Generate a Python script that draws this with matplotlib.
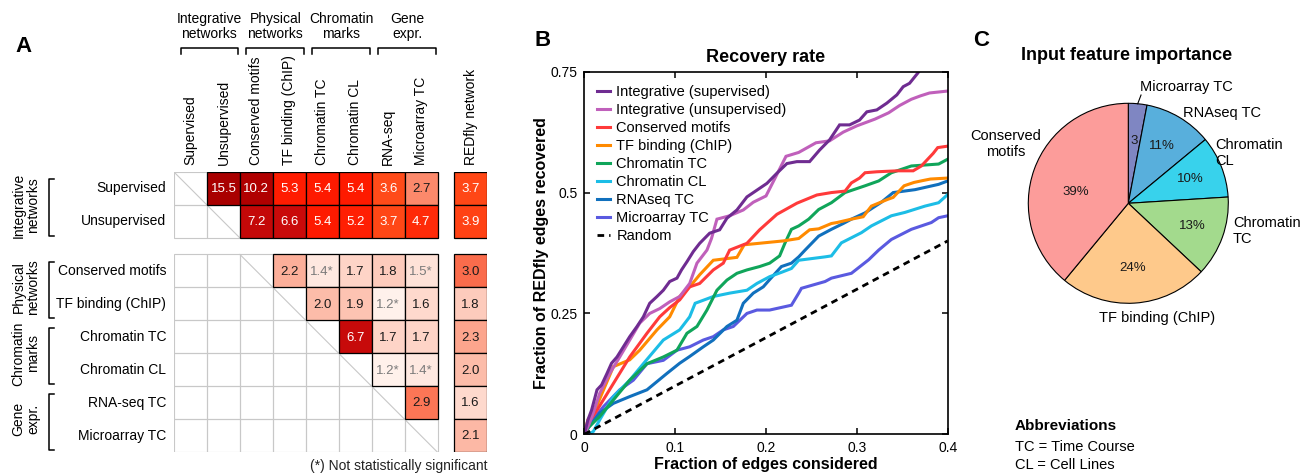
import math
import matplotlib
matplotlib.use('Agg')
import matplotlib.pyplot as plt
from matplotlib.patches import Rectangle
from matplotlib.colors import LinearSegmentedColormap, Normalize

plt.rcParams['font.family'] = ['Liberation Sans', 'DejaVu Sans']

W, H = 1314, 475

# ---------------- Panel A data ----------------
row_labels = ['Supervised', 'Unsupervised', 'Conserved motifs', 'TF binding (ChIP)',
              'Chromatin TC', 'Chromatin CL', 'RNA-seq TC', 'Microarray TC']
col_labels = ['Supervised', 'Unsupervised', 'Conserved motifs', 'TF binding (ChIP)',
              'Chromatin TC', 'Chromatin CL', 'RNA-seq', 'Microarray TC']
redfly_label = 'REDfly network'
group_labels = ['Integrative\nnetworks', 'Physical\nnetworks', 'Chromatin\nmarks', 'Gene\nexpr.']
overlap = [
    [None, 15.5, 10.2, 5.3, 5.4, 5.4, 3.6, 2.7],
    [None, None, 7.2, 6.6, 5.4, 5.2, 3.7, 4.7],
    [None, None, None, 2.2, 1.4, 1.7, 1.8, 1.5],
    [None, None, None, None, 2.0, 1.9, 1.2, 1.6],
    [None, None, None, None, None, 6.7, 1.7, 1.7],
    [None, None, None, None, None, None, 1.2, 1.4],
    [None, None, None, None, None, None, None, 2.9],
    [None, None, None, None, None, None, None, None],
]
redfly = [3.7, 3.9, 3.0, 1.8, 2.3, 2.0, 1.6, 2.1]
not_significant = [(2, 4), (2, 7), (3, 6), (5, 6), (5, 7)]

# ---------------- Panel B data ----------------
sup_x = [0, 0.004, 0.008, 0.014, 0.019, 0.025, 0.030, 0.036, 0.043, 0.050, 0.058, 0.065, 0.072,
         0.080, 0.087, 0.094, 0.102, 0.107, 0.113, 0.120, 0.127, 0.138, 0.149, 0.157, 0.168,
         0.179, 0.190, 0.201, 0.212, 0.223, 0.234, 0.248, 0.259, 0.270, 0.281, 0.292, 0.303,
         0.311, 0.322, 0.333, 0.344, 0.351, 0.358, 0.367, 0.372]
sup_y = [0, 0.030, 0.050, 0.092, 0.102, 0.126, 0.147, 0.160, 0.181, 0.202, 0.223, 0.243, 0.271,
         0.285, 0.298, 0.316, 0.323, 0.340, 0.357, 0.378, 0.395, 0.416, 0.423, 0.447, 0.464,
         0.491, 0.505, 0.519, 0.540, 0.560, 0.564, 0.564, 0.588, 0.609, 0.640, 0.640, 0.650,
         0.667, 0.671, 0.685, 0.702, 0.719, 0.726, 0.747, 0.760]
unsup_x = [0, 0.005, 0.010, 0.017, 0.028, 0.039, 0.050, 0.061, 0.072, 0.083, 0.094, 0.105, 0.116,
           0.124, 0.135, 0.140, 0.146, 0.160, 0.175, 0.186, 0.200, 0.210, 0.222, 0.236, 0.255,
           0.270, 0.285, 0.300, 0.320, 0.335, 0.347, 0.360, 0.370, 0.380, 0.390, 0.400]
unsup_y = [0, 0.020, 0.045, 0.085, 0.126, 0.160, 0.195, 0.230, 0.250, 0.260, 0.274, 0.285, 0.312,
           0.354, 0.381, 0.405, 0.445, 0.452, 0.464, 0.480, 0.493, 0.530, 0.575, 0.583, 0.603,
           0.607, 0.625, 0.638, 0.652, 0.665, 0.680, 0.693, 0.700, 0.706, 0.708, 0.710]
motif_x = [0, 0.005, 0.014, 0.032, 0.050, 0.069, 0.083, 0.094, 0.105, 0.116, 0.127, 0.142, 0.153,
           0.160, 0.179, 0.193, 0.212, 0.234, 0.256, 0.272, 0.287, 0.294, 0.303, 0.309, 0.322,
           0.345, 0.362, 0.371, 0.384, 0.389, 0.400]
motif_y = [0, 0.025, 0.050, 0.105, 0.160, 0.209, 0.243, 0.262, 0.278, 0.305, 0.312, 0.340, 0.354,
           0.381, 0.395, 0.423, 0.455, 0.478, 0.495, 0.500, 0.503, 0.520, 0.530, 0.541, 0.543,
           0.545, 0.545, 0.555, 0.581, 0.593, 0.596]
chip_x = [0, 0.004, 0.014, 0.032, 0.050, 0.061, 0.080, 0.094, 0.105, 0.116, 0.127, 0.142, 0.168,
          0.176, 0.219, 0.236, 0.248, 0.258, 0.272, 0.278, 0.294, 0.307, 0.316, 0.334, 0.340,
          0.352, 0.363, 0.373, 0.381, 0.400]
chip_y = [0, 0.030, 0.060, 0.140, 0.154, 0.174, 0.216, 0.243, 0.285, 0.305, 0.330, 0.360, 0.366,
          0.392, 0.400, 0.405, 0.423, 0.425, 0.436, 0.438, 0.445, 0.450, 0.472, 0.486, 0.490,
          0.514, 0.521, 0.525, 0.528, 0.530]
chrtc_x = [0, 0.005, 0.017, 0.032, 0.050, 0.069, 0.087, 0.102, 0.113, 0.124, 0.135, 0.146, 0.157,
           0.168, 0.179, 0.193, 0.204, 0.215, 0.221, 0.228, 0.236, 0.247, 0.258, 0.272, 0.287,
           0.309, 0.324, 0.338, 0.349, 0.360, 0.390, 0.400]
chrtc_y = [0, 0.015, 0.037, 0.071, 0.112, 0.146, 0.160, 0.174, 0.209, 0.223, 0.257, 0.298, 0.319,
           0.333, 0.340, 0.347, 0.354, 0.369, 0.396, 0.424, 0.431, 0.445, 0.465, 0.479, 0.500,
           0.514, 0.524, 0.541, 0.548, 0.555, 0.559, 0.569]
chrcl_x = [0, 0.005, 0.010, 0.017, 0.032, 0.050, 0.065, 0.087, 0.105, 0.116, 0.122, 0.142, 0.160,
           0.179, 0.190, 0.204, 0.217, 0.228, 0.236, 0.265, 0.272, 0.283, 0.305, 0.316, 0.338,
           0.353, 0.375, 0.390, 0.400]
chrcl_y = [0, 0.000, 0.006, 0.030, 0.078, 0.112, 0.146, 0.195, 0.216, 0.243, 0.271, 0.285, 0.292,
           0.298, 0.312, 0.326, 0.335, 0.343, 0.360, 0.367, 0.369, 0.396, 0.417, 0.431, 0.452,
           0.459, 0.472, 0.479, 0.496]
rnaseq_x = [0, 0.003, 0.017, 0.032, 0.050, 0.069, 0.091, 0.105, 0.116, 0.131, 0.142, 0.157, 0.168,
            0.175, 0.186, 0.197, 0.204, 0.217, 0.228, 0.236, 0.243, 0.258, 0.272, 0.285, 0.294,
            0.309, 0.327, 0.340, 0.364, 0.390, 0.400]
rnaseq_y = [0, 0.010, 0.044, 0.064, 0.078, 0.092, 0.126, 0.147, 0.161, 0.181, 0.195, 0.223, 0.236,
            0.271, 0.292, 0.305, 0.320, 0.347, 0.354, 0.367, 0.381, 0.410, 0.424, 0.436, 0.445,
            0.458, 0.480, 0.500, 0.506, 0.517, 0.524]
micro_x = [0, 0.006, 0.021, 0.039, 0.054, 0.069, 0.087, 0.102, 0.116, 0.131, 0.142, 0.153, 0.164,
           0.179, 0.190, 0.204, 0.228, 0.236, 0.239, 0.265, 0.272, 0.294, 0.313, 0.324, 0.338,
           0.360, 0.382, 0.390, 0.400]
micro_y = [0, 0.023, 0.057, 0.092, 0.112, 0.146, 0.153, 0.174, 0.181, 0.195, 0.202, 0.216, 0.223,
           0.250, 0.257, 0.257, 0.267, 0.292, 0.302, 0.316, 0.323, 0.333, 0.361, 0.381, 0.403,
           0.424, 0.438, 0.448, 0.452]
random_x = [0, 0.4]
random_y = [0, 0.4]
curve_names = ['Integrative (supervised)', 'Integrative (unsupervised)', 'Conserved motifs',
               'TF binding (ChIP)', 'Chromatin TC', 'Chromatin CL', 'RNAseq TC', 'Microarray TC']
curve_colors = ['#6f2c91', '#c060bb', '#ff3a3a', '#ff8a00', '#10a55a', '#1cbde6', '#1170bd', '#5a5ae0']

# ---------------- Panel C data ----------------
pie_labels = ['Microarray TC', 'RNAseq TC', 'Chromatin\nCL', 'Chromatin\nTC',
              'TF binding (ChIP)', 'Conserved\nmotifs']
pie_values = [3, 11, 10, 13, 24, 39]
pie_colors = ['#7f86c2', '#58afdc', '#38d2ec', '#a3da8d', '#fec98b', '#fc9c9a']

# =================================================
fig = plt.figure(figsize=(W / 100, H / 100), dpi=100)

def fx(px):
    return px / W

def fy(py):
    return 1 - py / H

# ---------------- Panel A ----------------
axA = fig.add_axes([fx(174), fy(452.3), fx(487) - fx(174), fy(172) - fy(452.3)])
axA.set_xlim(0, 9.5)
axA.set_ylim(8.5, 0)
axA.axis('off')

nodes = [(1.0, '#fff5f0'), (1.2, '#fff0ea'), (1.5, '#fee0d6'), (1.8, '#fdc8b8'),
         (2.1, '#fcb6a2'), (2.3, '#fca48c'), (2.7, '#fc8a6c'), (2.9, '#fc7454'),
         (3.0, '#fa6c4c'), (3.6, '#ff4a18'), (4.7, '#ff2a08'), (5.4, '#ff1a00'),
         (6.6, '#c80a0a'), (10.0, '#b00000'), (16.0, '#a80000')]
vmin, vmax = 1.0, 16.0
cmap = LinearSegmentedColormap.from_list(
    'ov', [((v - vmin) / (vmax - vmin), c) for v, c in nodes])
norm = Normalize(vmin, vmax)

def row_top(r):
    return r + (0.5 if r >= 2 else 0)

grey = '#c8c8c8'
for r in range(8):
    t = row_top(r)
    for c in range(8):
        axA.add_patch(Rectangle((c, t), 1, 1, fill=False, edgecolor=grey, lw=0.8, zorder=1))
        if c == r:
            axA.plot([c, c + 1], [t, t + 1], color=grey, lw=0.8, zorder=1)

def cell(x, t, v, star):
    axA.add_patch(Rectangle((x, t), 1, 1, facecolor=cmap(norm(v)), edgecolor='black',
                            lw=0.9, zorder=3))
    if v >= 3.3:
        tc = 'white'
    elif star:
        tc = '#7a7a7a'
    else:
        tc = '#1a1a1a'
    axA.text(x + 0.5, t + 0.52, f'{v:.1f}' + ('*' if star else ''), ha='center',
             va='center', fontsize=9.5, color=tc, zorder=4)

for r in range(8):
    t = row_top(r)
    for c in range(8):
        v = overlap[r][c]
        if v is not None:
            cell(c, t, v, (r, c) in not_significant)
    cell(8.5, t, redfly[r], False)

for c, lab in enumerate(col_labels):
    axA.text(c + 0.5, -0.22, lab, rotation=90, ha='center', va='bottom', fontsize=10)
axA.text(9.0, -0.22, redfly_label, rotation=90, ha='center', va='bottom', fontsize=10)

for r, lab in enumerate(row_labels):
    axA.text(-0.24, row_top(r) + 0.5, lab, ha='right', va='center', fontsize=10)

for g, lab in enumerate(group_labels):
    x0, x1 = 2 * g + 0.2, 2 * g + 1.95
    axA.plot([x0, x0, x1, x1], [-3.58, -3.77, -3.77, -3.58], color='black', lw=1.1,
             clip_on=False)
    axA.text((x0 + x1) / 2, -3.98, lab, ha='center', va='bottom', fontsize=10,
             linespacing=1.05)
    y0, y1 = row_top(2 * g) + 0.22, row_top(2 * g + 1) + 0.93
    axA.plot([-3.64, -3.80, -3.80, -3.64], [y0, y0, y1, y1], color='black', lw=1.1,
             clip_on=False)
    axA.text(-4.5, (row_top(2 * g) + row_top(2 * g + 1) + 1) / 2, lab, rotation=90,
             ha='center', va='center', fontsize=10, linespacing=1.05)

axA.text(9.5, 8.92, '(*) Not statistically significant', ha='right', va='center',
         fontsize=10, color='#222222')

fig.text(fx(15), fy(46), 'A', fontsize=16, fontweight='bold', va='center', ha='left')

# ---------------- Panel B ----------------
axB = fig.add_axes([fx(584.3), fy(434.3), fx(947.7) - fx(584.3), fy(71.7) - fy(434.3)])
series = [(sup_x, sup_y), (unsup_x, unsup_y), (motif_x, motif_y), (chip_x, chip_y),
          (chrtc_x, chrtc_y), (chrcl_x, chrcl_y), (rnaseq_x, rnaseq_y), (micro_x, micro_y)]
order = [7, 6, 5, 4, 3, 2, 1, 0]
handles = {}
for i in order:
    xs, ys = series[i]
    ln, = axB.plot(xs, ys, color=curve_colors[i], lw=2.2, label=curve_names[i],
                   solid_joinstyle='miter')
    handles[i] = ln
rl, = axB.plot(random_x, random_y, color='black', lw=2.0, dashes=(2.4, 1.8), label='Random')
axB.set_xlim(0, 0.4)
axB.set_ylim(0, 0.75)
axB.set_xticks([0, 0.1, 0.2, 0.3, 0.4])
axB.set_xticklabels(['0', '0.1', '0.2', '0.3', '0.4'])
axB.set_yticks([0, 0.25, 0.5, 0.75])
axB.set_yticklabels(['0', '0.25', '0.5', '0.75'])
axB.tick_params(direction='in', length=4, width=1.1, top=True, right=True,
                labelsize=10, pad=5)
for s in axB.spines.values():
    s.set_linewidth(1.2)
axB.set_title('Recovery rate', fontsize=13, fontweight='bold', pad=7)
axB.set_xlabel('Fraction of edges considered', fontsize=11.5, fontweight='bold')
axB.set_ylabel('Fraction of REDfly edges recovered', fontsize=11.5, fontweight='bold')
axB.xaxis.set_label_coords(0.5, -0.062)
axB.yaxis.set_label_coords(-0.098, 0.5)
leg = axB.legend([handles[i] for i in range(8)] + [rl], curve_names + ['Random'],
                 loc='upper left', bbox_to_anchor=(0, 1), borderaxespad=0, borderpad=0.9,
                 frameon=False, fontsize=10.5, handlelength=0.85, handletextpad=0.45,
                 labelspacing=0.28)

fig.text(fx(535), fy(40), 'B', fontsize=16, fontweight='bold', va='center', ha='left')

# ---------------- Panel C ----------------
R = 100
axC = fig.add_axes([fx(1128.3 - R), fy(203.3 + R), fx(2 * R), fy(0) - fy(2 * R)])
wedges, _ = axC.pie(pie_values, colors=pie_colors, startangle=90, counterclock=False,
                    radius=1, wedgeprops=dict(edgecolor='black', linewidth=0.8))
axC.set_xlim(-1, 1)
axC.set_ylim(-1, 1)
axC.axis('off')

pct_radius = [0.63, 0.66, 0.67, 0.68, 0.65, 0.54]
pct_shift = [0, 0, 0, 0, 0, 7.5]
for i, (w, v) in enumerate(zip(wedges, pie_values)):
    mid = math.radians((w.theta1 + w.theta2) / 2 + pct_shift[i])
    txt = f'{v}' if v < 5 else f'{v}%'
    axC.text(pct_radius[i] * math.cos(mid), pct_radius[i] * math.sin(mid), txt,
             ha='center', va='center', fontsize=9.5, color='#1a1a1a')

label_pos = [(0.118, 1.163, 'left'), (0.547, 0.903, 'left'), (0.867, 0.503, 'left'),
             (1.047, -0.277, 'left'), (0.287, -1.147, 'center'), (-1.223, 0.593, 'center')]
for lab, (lx, ly, ha) in zip(pie_labels, label_pos):
    axC.text(lx, ly, lab, ha=ha, va='center', fontsize=10.5, multialignment=ha,
             linespacing=1.15)

w0 = wedges[0]
a0 = math.radians((w0.theta1 + w0.theta2) / 2)
a1 = a0 - math.radians(1.3)
axC.plot([math.cos(a0), 1.09 * math.cos(a1)], [math.sin(a0), 1.09 * math.sin(a1)],
         color='black', lw=0.8, clip_on=False)

fig.text(fx(1127), fy(55), 'Input feature importance', fontsize=13, fontweight='bold',
         ha='center', va='center')
fig.text(fx(973), fy(41), 'C', fontsize=16, fontweight='bold', va='center', ha='left')

fig.text(fx(1015), fy(425.7), 'Abbreviations', fontsize=11, fontweight='bold',
         ha='left', va='center')
fig.text(fx(1015), fy(446.7), 'TC = Time Course', fontsize=10.5, ha='left', va='center')
fig.text(fx(1015), fy(465), 'CL = Cell Lines', fontsize=10.5, ha='left', va='center')

fig.savefig('out.png', dpi=100)
